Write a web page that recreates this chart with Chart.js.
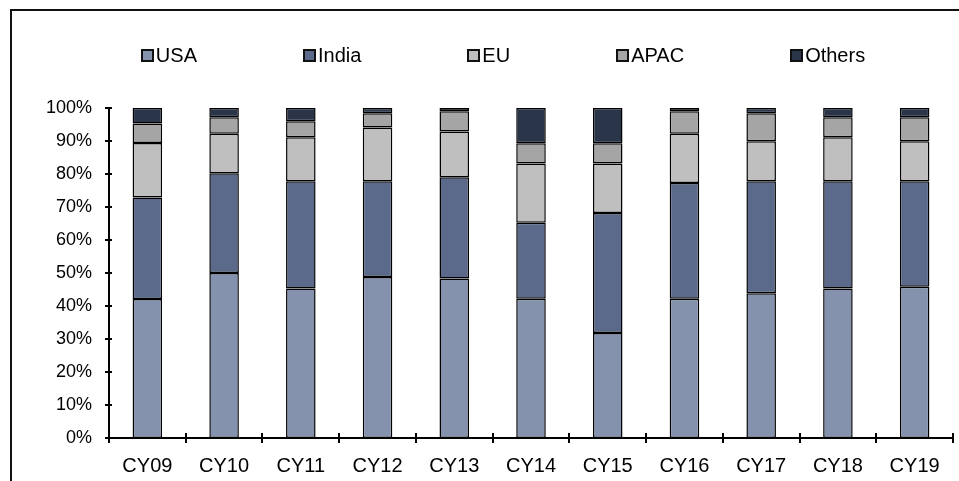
<!DOCTYPE html>
<html>
<head>
<meta charset="utf-8">
<script src="https://cdn.jsdelivr.net/npm/chart.js@4/dist/chart.umd.min.js"></script>
<style>
  html, body { margin: 0; padding: 0; background: #fff; }
  body { width: 959px; height: 481px; overflow: hidden; position: relative; font-family: "Liberation Sans", Arial, sans-serif; }
  #frame { position: absolute; left: 10px; top: 9px; width: 1100px; height: 600px; border: 2px solid #111; box-sizing: border-box; }
  #wrap { position: absolute; left: 12px; top: 11px; width: 982px; height: 470px; }
  #legend { position: absolute; left: 12px; top: 44px; width: 982px; display: flex; justify-content: center; gap: 106px; font-size: 20px; line-height: 22px; color: #000; }
  .item { display: flex; align-items: center; white-space: nowrap; }
  .swatch { width: 13px; height: 13px; box-sizing: border-box; border: 2px solid #111; margin-right: 2px; }
</style>
</head>
<body>
<div id="frame"></div>
<div id="wrap"><canvas id="chart"></canvas></div>
<div id="legend"></div>
<script>
// Regional revenue mix by calendar year (% of total)
const categories = ['CY09', 'CY10', 'CY11', 'CY12', 'CY13', 'CY14', 'CY15', 'CY16', 'CY17', 'CY18', 'CY19'];
const usa    = [42.1, 50.0, 45.3, 48.8, 48.3, 42.2, 31.8, 42.2, 43.9, 45.3, 45.8];
const india  = [30.8, 30.2, 32.5, 29.0, 30.7, 23.0, 36.4, 35.1, 33.9, 32.5, 32.0];
const eu     = [16.5, 12.0, 13.3, 16.3, 13.9, 18.0, 15.0, 14.9, 12.1, 13.3, 12.1];
const apac   = [5.9, 5.0, 4.9, 4.3, 6.1, 6.1, 6.1, 6.8, 8.5, 6.1, 7.3];
const others = [4.7, 2.8, 4.0, 1.6, 1.0, 10.7, 10.7, 1.0, 1.6, 2.8, 2.8];
const seriesNames = ['USA', 'India', 'EU', 'APAC', 'Others'];
const yTickValues = [0, 10, 20, 30, 40, 50, 60, 70, 80, 90, 100];

const colors = ['#8592ad', '#5b6a8b', '#bfbfbf', '#a5a5a5', '#2a3549'];
const values = [usa, india, eu, apac, others];

const FONT = '"Liberation Sans", Arial, sans-serif';

// Legend row
const legendEl = document.getElementById('legend');
seriesNames.forEach((name, i) => {
  const item = document.createElement('div');
  item.className = 'item';
  const sw = document.createElement('span');
  sw.className = 'swatch';
  sw.style.background = colors[i];
  const tx = document.createElement('span');
  tx.textContent = name;
  item.appendChild(sw);
  item.appendChild(tx);
  legendEl.appendChild(item);
});

// Short tick marks that cross both axes
const crossTicks = {
  id: 'crossTicks',
  afterDatasetsDraw(chart) {
    const { ctx, scales: { x, y } } = chart;
    ctx.save();
    ctx.strokeStyle = '#000';
    ctx.lineWidth = 2;
    ctx.beginPath();
    yTickValues.forEach(v => {
      const py = Math.round(y.getPixelForValue(v));
      ctx.moveTo(x.left - 4, py);
      ctx.lineTo(x.left + 3, py);
    });
    for (let i = 0; i <= categories.length; i++) {
      const px = Math.round(x.getPixelForValue(i - 0.5));
      ctx.moveTo(px, y.bottom - 5);
      ctx.lineTo(px, y.bottom + 5);
    }
    ctx.stroke();
    ctx.restore();
  }
};

new Chart(document.getElementById('chart'), {
  type: 'bar',
  data: {
    labels: categories,
    datasets: seriesNames.map((name, i) => ({
      label: name,
      data: values[i],
      backgroundColor: colors[i],
      borderColor: '#000',
      borderWidth: 1.5,
      borderSkipped: false,
      barPercentage: 0.385,
      categoryPercentage: 1.0
    }))
  },
  options: {
    responsive: true,
    maintainAspectRatio: false,
    devicePixelRatio: 1,
    animation: false,
    layout: { padding: { top: 97, right: 41, bottom: 0, left: 0 } },
    plugins: { legend: { display: false }, tooltip: { enabled: false } },
    scales: {
      x: {
        stacked: true,
        grid: { display: false, drawTicks: false, offset: true },
        border: { display: true, color: '#000', width: 2 },
        ticks: { color: '#000', font: { family: FONT, size: 20 }, padding: 16, maxRotation: 0 },
        afterFit(scale) { scale.height = 43; }
      },
      y: {
        stacked: true,
        min: 0,
        max: 100,
        afterBuildTicks(scale) { scale.ticks = yTickValues.map(v => ({ value: v })); },
        grid: { display: false, drawTicks: false },
        border: { display: true, color: '#000', width: 2 },
        ticks: { color: '#000', font: { family: FONT, size: 18 }, padding: 17, callback: v => v + '%' },
        afterFit(scale) { scale.width = 97; }
      }
    }
  },
  plugins: [crossTicks]
});
</script>
</body>
</html>
